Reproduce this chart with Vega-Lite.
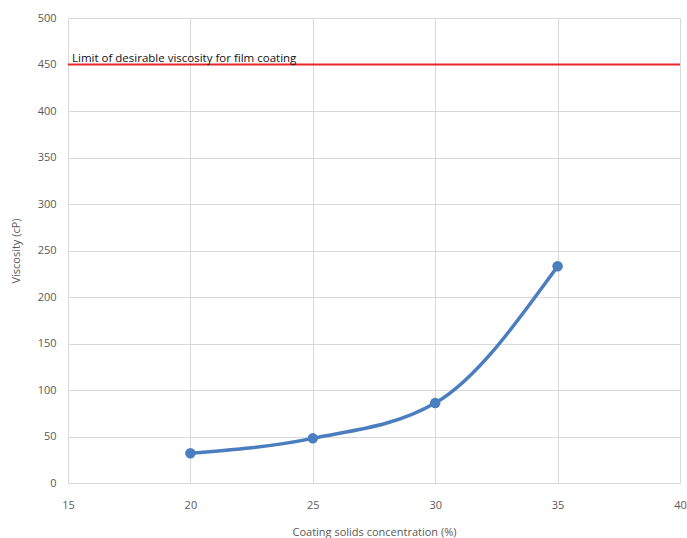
{
  "$schema": "https://vega.github.io/schema/vega-lite/v6.json",
  "autosize": {"type": "fit", "contains": "padding"},
  "padding": {"left": 10, "top": 12, "right": 0, "bottom": 1},
  "width": 687,
  "height": 538,
  "background": "white",
  "config": {
    "view": {"stroke": null},
    "font": "Open Sans",
    "axis": {
      "labelFont": "Open Sans",
      "titleFont": "Open Sans",
      "labelFontSize": 11,
      "titleFontSize": 11,
      "labelColor": "#595959",
      "titleColor": "#595959",
      "titleFontWeight": "normal",
      "gridColor": "#d9d9d9",
      "gridWidth": 1,
      "ticks": false,
      "tickSize": 0,
      "domain": false
    }
  },
  "datasets": {
    "series": [
      {"concentration": 20, "viscosity": 32},
      {"concentration": 25, "viscosity": 48},
      {"concentration": 30, "viscosity": 86},
      {"concentration": 35, "viscosity": 233}
    ],
    "limit": [
      {"concentration": 15, "viscosity": 450, "label": "Limit of desirable viscosity for film coating"},
      {"concentration": 40, "viscosity": 450, "label": ""}
    ]
  },
  "layer": [
    {
      "data": {"name": "series"},
      "mark": {"type": "line", "interpolate": "monotone", "color": "#4a7ebf", "strokeWidth": 3.5},
      "encoding": {
        "x": {"field": "concentration", "type": "quantitative", "scale": {"domain": [15, 40], "nice": false},
              "axis": {"values": [15, 20, 25, 30, 35, 40], "title": "Coating solids concentration (%)", "labelPadding": 16, "titlePadding": 16, "labelFlush": false}},
        "y": {"field": "viscosity", "type": "quantitative", "scale": {"domain": [0, 500], "nice": false},
              "axis": {"values": [0, 50, 100, 150, 200, 250, 300, 350, 400, 450, 500], "title": "Viscosity (cP)", "labelPadding": 12, "titlePadding": 16}}
      }
    },
    {
      "data": {"name": "series"},
      "mark": {"type": "point", "filled": true, "opacity": 1, "color": "#4a7ebf", "size": 110},
      "encoding": {
        "x": {"field": "concentration", "type": "quantitative"},
        "y": {"field": "viscosity", "type": "quantitative"}
      }
    },
    {
      "data": {"name": "limit"},
      "mark": {"type": "line", "color": "#e8262a", "strokeWidth": 2},
      "encoding": {
        "x": {"field": "concentration", "type": "quantitative"},
        "y": {"field": "viscosity", "type": "quantitative"}
      }
    },
    {
      "data": {"name": "limit"},
      "mark": {"type": "text", "align": "left", "baseline": "bottom", "dx": 4, "dy": -1, "fontSize": 11.5, "color": "#111111", "font": "Open Sans"},
      "encoding": {
        "x": {"field": "concentration", "type": "quantitative"},
        "y": {"field": "viscosity", "type": "quantitative"},
        "text": {"field": "label"}
      }
    }
  ]
}
